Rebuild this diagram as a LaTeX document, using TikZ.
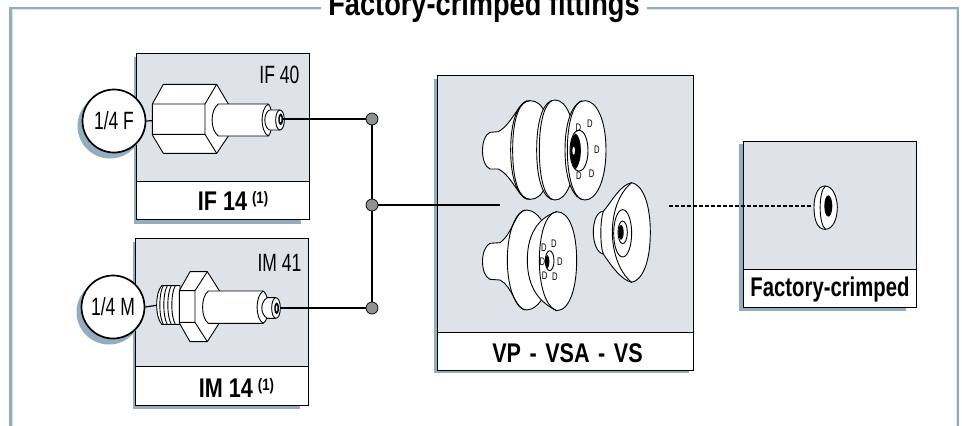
\documentclass[tikz,border=0pt]{standalone}
\usepackage{graphicx}
\usepackage{fontspec}
\setmainfont[FakeStretch=0.70,BoldFont={Liberation Sans Bold},BoldFeatures={FakeStretch=0.80}]{Liberation Sans}
\definecolor{panel}{HTML}{DDE3E9}
\definecolor{slatec}{HTML}{93ADBF}
\definecolor{dotgray}{HTML}{8F9294}
\tikzset{
 panelbox/.style={draw=black,line width=1.1pt,fill=panel},
 capbox/.style={draw=black,line width=1.1pt,fill=white},
 dropfill/.style={fill=slatec,draw=none},
 part/.style={draw=black,line width=.9pt,fill=white,line join=round},
 pl/.style={draw=black,line width=.9pt},
 wire/.style={draw=black,line width=1.8pt},
 junction/.style={circle,draw=black,line width=.7pt,fill=dotgray,minimum size=12pt,inner sep=0pt},
 portc/.style={circle,draw=black,line width=1.7pt,fill=white,minimum size=63pt,inner sep=0pt,font=\fontsize{25}{25}\selectfont},
 captxt/.style={font=\bfseries\fontsize{27}{27}\selectfont,inner sep=0pt},
 smalltxt/.style={font=\fontsize{25}{25}\selectfont,inner sep=0pt},
 zA/.style={shift={(60,30)},x=.33333pt,y=-.33333pt},
 zB/.style={shift={(60,225)},x=.33333pt,y=-.33333pt},
 zC/.style={shift={(430,70)},x=.33333pt,y=-.33333pt},
 zD/.style={shift={(660,130)},x=.33333pt,y=-.33333pt},
}
\newcommand{\supone}{\raisebox{6.5pt}{\fontsize{16.5}{16.5}\selectfont (1)}}
\begin{document}
\begin{tikzpicture}[x=1pt,y=-1pt]
\useasboundingbox (0,0) rectangle (962,426);
\clip (0,0) rectangle (962,426);
\fill[white] (0,0) rectangle (962,426);
% frame
\draw[panel,line width=1pt] (12,426) -- (12,9.7) -- (956.5,9.7) -- (956.5,426);
\draw[slatec,line width=2.4pt] (10.5,426) -- (10.5,8) -- (958,8) -- (958,426);
\node[fill=white,inner xsep=7pt,inner ysep=0pt,font=\bfseries\fontsize{34}{34}\selectfont,anchor=base] (title) at (484,15) {Factory-crimped fittings};
% IF box
\fill[dropfill] (134,57) rectangle (301,224);
\node[panelbox,minimum width=173pt,minimum height=128pt,anchor=north west,inner sep=0pt] (ifp) at (136,53) {};
\node[capbox,minimum width=173pt,minimum height=38pt,anchor=north west,inner sep=0pt] (ifc) at (136,181) {};
\node[smalltxt,anchor=base east] (ift) at (299.5,83) {IF 40};
\node[captxt,anchor=base] (ifn) at (233,210) {IF 14\hspace{5pt}\supone};
% IM box
\fill[dropfill] (133,242) rectangle (300,409);
\node[panelbox,minimum width=173pt,minimum height=128pt,anchor=north west,inner sep=0pt] (imp) at (135,238) {};
\node[capbox,minimum width=173pt,minimum height=39pt,anchor=north west,inner sep=0pt] (imc) at (135,366) {};
\node[smalltxt,anchor=base east] (imt) at (301.5,271) {IM 41};
\node[captxt,anchor=base] (imn) at (236.5,397) {IM 14\hspace{5pt}\supone};
% VP box
\fill[dropfill] (434,79) rectangle (689,373);
\node[panelbox,minimum width=256pt,minimum height=257pt,anchor=north west,inner sep=0pt] (vpp) at (437,75) {};
\node[capbox,minimum width=256pt,minimum height=38pt,anchor=north west,inner sep=0pt] (vpc) at (437,332) {};
\node[captxt,anchor=base] (vpn) at (567.5,362) {VP\hspace{2.5pt} - \hspace{2.5pt}VSA\hspace{2.5pt} - \hspace{2.5pt}VS};
% factory box
\fill[dropfill] (739,144) rectangle (906,311);
\node[panelbox,minimum width=173pt,minimum height=128pt,anchor=north west,inner sep=0pt] (fcp) at (743,141) {};
\node[capbox,minimum width=173pt,minimum height=38pt,anchor=north west,inner sep=0pt] (fcc) at (743,269) {};
\node[captxt,anchor=base] (fcn) at (830,296) {\scalebox{.94}[1]{Factory-crimped}};
% port circles
\fill[dropfill] (110,126) circle (32.5);
\fill[dropfill] (109,312) circle (32.5);
\node[portc] (pf) at (114,121) {1/4 F};
\node[portc] (pm) at (113,307) {1/4 M};
% IF fitting
\begin{scope}[zA]
 \draw[pl,line width=1.2pt] (pf.east) -- (277,272);
 \draw[part] (277,222) -- (310,163) -- (470,163) -- (505,222) -- (505,318) -- (470,370) -- (310,370) -- (277,315) -- cycle;
 \draw[pl] (277,222) -- (435,222) -- (470,163) (277,313) -- (435,313) -- (470,370) (435,222) -- (435,313);
 \draw[part] (625,222) -- (475,222) .. controls (450,240) and (450,300) .. (475,318) -- (625,318);
 \draw[part] (625,222) .. controls (600,235) and (600,305) .. (625,318) .. controls (640,305) and (640,235) .. (625,222);
 \draw[part] (660,240) -- (628,240) .. controls (610,250) and (610,290) .. (628,300) -- (660,300);
 \draw[part] (660,270) ellipse [x radius=13,y radius=30];
 \fill[black] (662,268) ellipse [x radius=7,y radius=18];
 \fill[white] (662,268) ellipse [x radius=2.5,y radius=9];
\end{scope}
% IM fitting
\begin{scope}[zB]
 \draw[pl,line width=1.2pt] (pm.east) -- (295,240);
 \draw[part] (360,182) -- (305,182) .. controls (285,205) and (285,275) .. (305,298) -- (360,298) -- cycle;
 \foreach \x in {310,322,334,346}{\draw[pl] (\x,182) .. controls (\x-14,205) and (\x-14,275) .. (\x,298);}
 \draw[part] (358,197) -- (390,140) -- (442,140) -- (478,197) -- (478,294) -- (442,350) -- (390,350) -- (358,294) -- cycle;
 \draw[pl] (358,197) -- (405,197) -- (442,140) (358,292) -- (405,292) -- (442,350) (405,197) -- (405,292);
 \draw[part] (610,198) -- (445,198) .. controls (422,215) and (422,278) .. (445,295) -- (610,295);
 \draw[part] (610,198) .. controls (585,212) and (585,282) .. (610,295) .. controls (630,282) and (630,212) .. (610,198);
 \draw[part] (648,218) -- (622,218) .. controls (600,230) and (600,268) .. (622,280) -- (648,280);
 \draw[part] (648,249) ellipse [x radius=13,y radius=31];
 \fill[black] (650,250) ellipse [x radius=7,y radius=18];
 \fill[white] (650,250) ellipse [x radius=2.5,y radius=9];
\end{scope}
% wires
\node[junction] (j1) at (372,119) {};
\node[junction] (j2) at (372,205) {};
\node[junction] (j3) at (372,308) {};
\coordinate (e1) at (283,119);
\coordinate (e3) at (280,308);
\coordinate (e2) at (499.5,205);
\draw[wire] (e1) -- (j1.west);
\draw[wire] (e3) -- (j3.west);
\draw[wire] (j1.south) -- (j2.north);
\draw[wire] (j2.south) -- (j3.north);
\draw[wire] (j2.east) -- (e2);
% cups
\begin{scope}[zC]
 % top cup
 \draw[part] (300,92) .. controls (265,92) and (250,160) .. (205,185) -- (180,187) .. controls (150,200) and (150,285) .. (180,297) -- (205,297) .. controls (250,320) and (265,388) .. (300,388) .. controls (340,388) and (360,340) .. (360,240) .. controls (360,140) and (340,92) .. cycle;
 \draw[pl] (248,240) .. controls (248,140) and (270,92) .. (300,92) (248,240) .. controls (248,340) and (270,388) .. (300,388);
 \draw[pl] (242,240) .. controls (242,150) and (265,100) .. (292,92) (242,240) .. controls (242,330) and (265,380) .. (292,388);
 \draw[part] (375,90) .. controls (340,90) and (320,150) .. (320,240) .. controls (320,330) and (340,390) .. (375,390) .. controls (410,390) and (435,330) .. (435,240) .. controls (435,150) and (410,90) .. cycle;
 \draw[pl] (328,240) .. controls (328,150) and (345,100) .. (368,91) (328,240) .. controls (328,330) and (345,380) .. (368,389);
 \draw[part] (465,92) .. controls (430,92) and (405,150) .. (405,240) .. controls (405,330) and (430,390) .. (465,390) .. controls (500,390) and (528,330) .. (528,240) .. controls (528,150) and (500,92) .. cycle;
 \draw[pl] (455,92) .. controls (430,100) and (412,160) .. (412,240) .. controls (412,320) and (430,380) .. (455,388);
 \draw[part] (447,242) ellipse [x radius=27,y radius=62];
 \fill[black] (437,190) .. controls (415,205) and (415,275) .. (437,298) .. controls (458,275) and (458,205) .. (437,190);
 \fill[white] (431,242) ellipse [x radius=4,y radius=12];
 \foreach \p in {(445,172),(480,162),(501,238),(485,310),(447,318)}{\node[font=\fontsize{11}{11}\selectfont,inner sep=0pt] at \p {D};}
 % bottom-left cup
 \draw[part] (290,420) .. controls (255,420) and (250,490) .. (210,518) -- (180,520) .. controls (150,535) and (150,615) .. (180,628) -- (210,630) .. controls (250,650) and (255,720) .. (290,720) .. controls (310,720) and (330,700) .. (340,680) -- (340,460) .. controls (330,440) and (310,420) .. (290,420) -- cycle;
 \draw[pl] (232,570) .. controls (232,480) and (260,425) .. (285,420) (232,570) .. controls (232,660) and (260,715) .. (285,720);
 \draw[part] (380,425) .. controls (335,440) and (292,480) .. (292,570) .. controls (292,660) and (335,700) .. (380,722) .. controls (420,722) and (440,650) .. (440,572) .. controls (440,490) and (420,425) .. cycle;
 \draw[pl] (380,425) .. controls (345,430) and (328,500) .. (328,572) .. controls (328,640) and (345,710) .. (380,722);
 \draw[part] (359,572) ellipse [x radius=13,y radius=30];
 \fill[black] (352,575) ellipse [x radius=6,y radius=20];
 \foreach \p in {(342,532),(372,520),(390,575),(375,620),(344,618),(337,574)}{\node[font=\fontsize{11}{11}\selectfont,inner sep=0pt] at \p {D};}
 % right cup
 \draw[part] (605,338) .. controls (570,345) and (545,395) .. (520,424) .. controls (480,425) and (480,545) .. (520,552) .. controls (545,590) and (575,630) .. (605,637) .. controls (640,630) and (661,570) .. (661,487) .. controls (661,405) and (640,345) .. cycle;
 \draw[pl] (520,424) .. controls (510,450) and (510,530) .. (520,552);
 \draw[pl] (605,338) .. controls (565,370) and (547,430) .. (547,487) .. controls (547,540) and (565,605) .. (605,637);
 \draw[part] (578,490) ellipse [x radius=27,y radius=71];
 \draw[part] (578,487) ellipse [x radius=14,y radius=34];
 \fill[black] (573,487) ellipse [x radius=8,y radius=22];
\end{scope}
% crimped ring and dashed wire
\begin{scope}[zD]
 \draw[part] (495,168) .. controls (470,168) and (462,205) .. (462,232) .. controls (462,265) and (470,298) .. (495,298) .. controls (520,298) and (532,265) .. (532,232) .. controls (532,205) and (520,168) .. cycle;
 \draw[pl] (497,168) .. controls (475,180) and (475,285) .. (497,298);
 \fill[black] (505,228) ellipse [x radius=12,y radius=32];
 \coordinate (ring) at (453,229);
 \coordinate (dstart) at (27,229);
\end{scope}
\draw[draw=black,line width=1.8pt,dash pattern=on 4pt off 2pt] (dstart) -- (ring);
\end{tikzpicture}
\end{document}
